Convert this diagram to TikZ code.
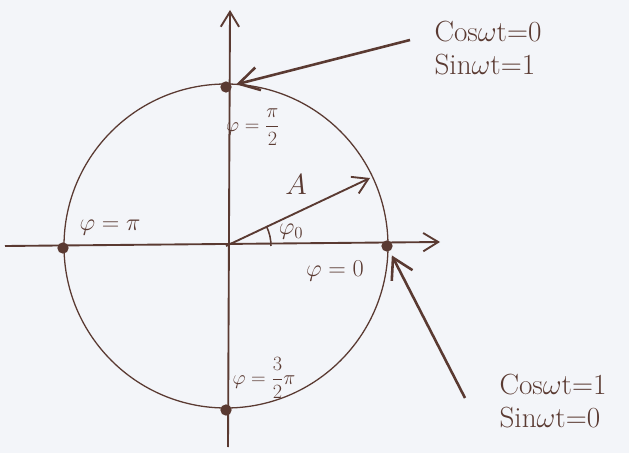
\documentclass[tikz,border=0pt]{standalone}
\usepackage{amsmath,amssymb}
\usepackage{tikz}
\usetikzlibrary{arrows.meta,positioning,calc}
\definecolor{ink}{HTML}{5A3A32}
\definecolor{paper}{HTML}{F3F5F9}

\begin{document}
\begin{tikzpicture}[x=0.03cm,y=0.03cm,font=\LARGE,
  every node/.style={text=ink},
  axisline/.style={ink,line width=1.6pt,-{Straight Barb[length=4.5mm,width=5.5mm,line width=1.6pt]}},
  pointer/.style={ink,line width=2.2pt,-{Straight Barb[length=6mm,width=7mm,line width=2.2pt]}},
  dotmark/.style={circle,fill=ink,inner sep=0pt,minimum size=3.4mm}]
  \def\rad{162}

  \fill[paper] (0,0) rectangle (629,453);
  \useasboundingbox (0,0) rectangle (629,453);

  \coordinate (O) at (226,207);
  \coordinate (xs) at (5,207);
  \coordinate (xe) at (440,211);
  \coordinate (ys) at (228,6);
  \coordinate (ye) at (230,443);

  \draw[ink,line width=1.1pt] (O) circle (\rad);
  \draw[axisline] (xs) -- (xe);
  \draw[axisline] (ys) -- (ye);

  \node[dotmark] (top) at (226,366) {};
  \node[dotmark] (right) at (387,207) {};
  \node[dotmark] (left) at (63,205) {};
  \node[dotmark] (bottom) at (226,43) {};

  \coordinate (tipA) at (370,275);
  \draw[axisline] (O) -- (tipA);
  \draw[ink,line width=1.3pt] ($(O)+(45,0)$) arc (0:25:45);

  \node[font=\Huge] (labA) at (296,268) {$A$};
  \node[font=\huge] (phi0) at (291,221) {$\varphi_0$};
  \node[font=\huge] (phizero) at (335,182) {$\varphi=0$};
  \node (phihalf) at (253,326) {$\varphi=\dfrac{\pi}{2}$};
  \node[font=\huge] (phipi) at (110,225) {$\varphi=\pi$};
  \node (phithree) at (264,75) {$\varphi=\dfrac{3}{2}\pi$};

  \node[font=\Huge,align=left,inner sep=0pt] (upper) at (488,405)
    {Cos$\omega$t=0\\[-2pt]Sin$\omega$t=1};
  \node[font=\Huge,align=left,inner sep=0pt] (lower) at (553,52)
    {Cos$\omega$t=1\\[-2pt]Sin$\omega$t=0};

  \coordinate (fromupper) at (410,413);
  \coordinate (fromlower) at (465,55);
  \draw[pointer,shorten >=4pt] (fromupper) -- (top);
  \draw[pointer,shorten >=4pt] (fromlower) -- (right);
\end{tikzpicture}
\end{document}
